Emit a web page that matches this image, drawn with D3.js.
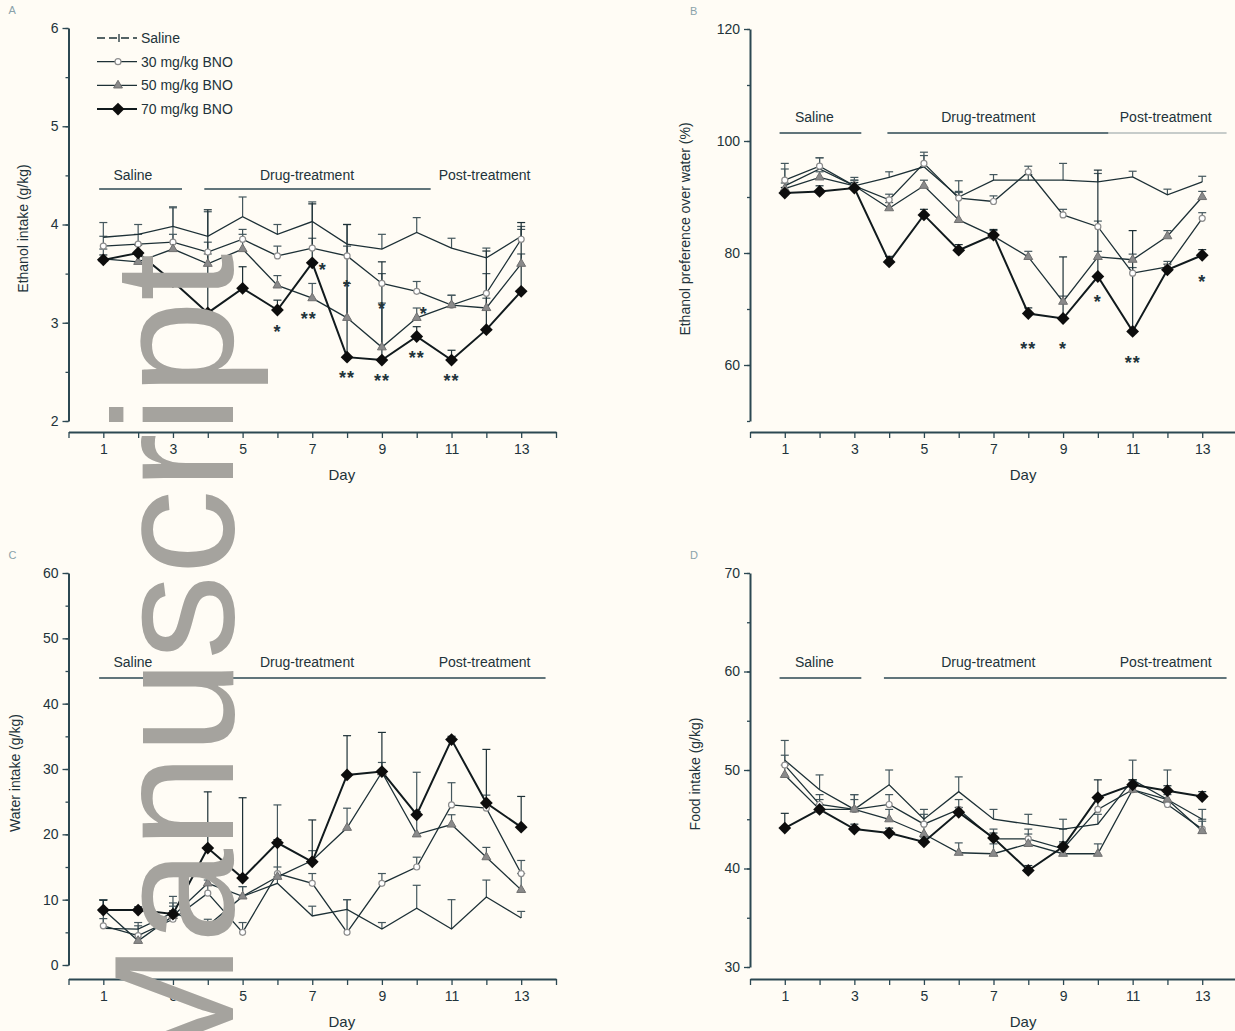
<!DOCTYPE html>
<head>
  <script src="https://d3js.org/d3.v7.min.js"></script>
  <style>
    body { margin: 0; overflow: hidden; background: #fffcf5; }
    svg { display: block; background: #fffcf5; }
    text { font-family: "Liberation Sans", Arial, sans-serif; fill: #22333a; }
  </style>
</head>
<body>
  <svg width="1235" height="1031"></svg>
  <script>
    // values, days 1..13
    const days = d3.range(1, 14);
    const seriesNames = ['Saline', '30 mg/kg BNO', '50 mg/kg BNO', '70 mg/kg BNO'];

    // A: ethanol intake (g/kg)
    const ethanolSaline = [3.87, 3.90, 3.98, 3.88, 4.08, 3.90, 4.03, 3.80, 3.75, 3.92, 3.76, 3.66, 3.88];
    const ethanol30 = [3.78, 3.80, 3.82, 3.72, 3.85, 3.68, 3.76, 3.68, 3.40, 3.32, 3.18, 3.30, 3.85];
    const ethanol50 = [3.65, 3.62, 3.75, 3.60, 3.75, 3.38, 3.25, 3.05, 2.75, 3.05, 3.18, 3.15, 3.60];
    const ethanol70 = [3.64, 3.71, 3.42, 3.10, 3.35, 3.13, 3.61, 2.65, 2.62, 2.86, 2.62, 2.93, 3.32];
    const ethanolSalineErr = [0.15, 0.10, 0.20, 0.25, 0.20, 0.10, 0.20, 0.20, 0.15, 0.15, 0.10, 0.10, 0.10];
    const ethanol30Err = [0.10, 0.10, 0.35, 0.10, 0.10, 0.10, 0.10, 0.10, 0.10, 0.10, 0.10, 0.20, 0.10];
    const ethanol50Err = [0.10, 0.10, 0.15, 0.10, 0.15, 0.10, 0.15, 0.35, 0.45, 0.10, 0.10, 0.10, 0.10];
    const ethanol70Err = [0.05, 0.08, 0.05, 1.05, 0.22, 0.10, 0.60, 1.35, 1.00, 0.10, 0.10, 0.80, 0.70];
    const ethanolStars = [
      { day: 6, value: 2.95, text: '*' }, { day: 6.9, value: 3.08, text: '**' }, { day: 7.3, value: 3.58, text: '*' },
      { day: 8, value: 2.48, text: '**' }, { day: 8, value: 3.40, text: '*' },
      { day: 9, value: 2.45, text: '**' }, { day: 9, value: 3.18, text: '*' },
      { day: 10, value: 2.68, text: '**' }, { day: 10.2, value: 3.13, text: '*' },
      { day: 11, value: 2.45, text: '**' }
    ];

    // B: ethanol preference over water (%)
    const prefSaline = [92, 95, 92, 93.5, 95.4, 90, 93, 93, 93, 92.7, 93.6, 90.4, 92.7];
    const pref30 = [93, 95.5, 92, 89.5, 96, 89.8, 89.2, 94.5, 86.8, 84.7, 76.4, 77.5, 86.2];
    const pref50 = [91.5, 93.5, 92, 88, 92, 85.9, 83, 79.3, 71.3, 79.3, 78.8, 83, 90];
    const pref70 = [90.7, 91, 91.6, 78.4, 86.8, 80.5, 83.2, 69.2, 68.3, 75.8, 66, 77, 79.6];
    const prefSalineErr = [3, 2, 1.5, 1, 2, 1, 1, 1, 3, 1.5, 1, 1, 1];
    const pref30Err = [3, 1.5, 1, 1, 2, 1, 1, 1, 1, 1, 1, 1, 1];
    const pref50Err = [1, 1, 1, 1, 1, 7, 1, 1, 1, 1, 1, 1, 1];
    const pref70Err = [1, 1, 1, 1, 1, 1, 1, 1, 11, 19, 18, 1, 1];
    const prefStars = [
      { day: 8, value: 63.5, text: '**' }, { day: 9, value: 63.5, text: '*' },
      { day: 10, value: 72, text: '*' }, { day: 11, value: 61, text: '**' },
      { day: 13, value: 75.5, text: '*' }
    ];

    // C: water intake (g/kg)
    const waterSaline = [5.6, 5.5, 8.0, 6.0, 10.5, 12.5, 7.5, 8.5, 5.5, 8.7, 5.5, 10.4, 7.2];
    const water30 = [6.0, 4.5, 7.0, 11.0, 5.0, 14.0, 12.5, 5.0, 12.5, 15.0, 24.5, 24.0, 14.0];
    const water50 = [8.5, 3.7, 7.5, 12.5, 10.5, 13.5, 16.0, 21.0, 29.5, 20.0, 21.5, 16.5, 11.5];
    const water70 = [8.4, 8.4, 7.8, 17.9, 13.3, 18.7, 15.8, 29.1, 29.6, 23.0, 34.5, 24.8, 21.1];
    const waterSalineErr = [1.5, 1, 1.5, 1, 1.5, 1, 1.5, 1.5, 1, 3.5, 4.5, 2.6, 1];
    const water30Err = [4, 1.5, 2, 2, 1.5, 10.5, 1.5, 5, 1.5, 1.5, 3.4, 2, 2];
    const water50Err = [1.5, 1, 3, 2, 1.5, 1.5, 1.5, 3, 1.5, 9.5, 1.5, 1.5, 2.5];
    const water70Err = [1.5, 0.5, 0.5, 8.6, 12.3, 0.5, 6.4, 6, 6, 0.5, 0.5, 8.2, 4.7];

    // D: food intake (g/kg)
    const foodSaline = [51.0, 48.0, 46.0, 48.5, 45.0, 47.8, 45.0, 44.5, 44.0, 44.5, 49.0, 47.0, 45.0];
    const food30 = [50.5, 46.5, 46.0, 46.5, 44.5, 46.0, 43.0, 43.0, 42.0, 46.0, 48.0, 46.5, 44.0];
    const food50 = [49.5, 46.0, 46.0, 45.0, 43.5, 41.6, 41.5, 42.5, 41.5, 41.5, 48.0, 47.0, 43.8];
    const food70 = [44.1, 46.0, 44.0, 43.6, 42.7, 45.7, 43.1, 39.8, 42.2, 47.2, 48.5, 47.9, 47.3];
    const foodSalineErr = [2, 1.5, 1.5, 1.5, 1, 1.5, 1, 1, 1, 1, 2, 3, 1];
    const food30Err = [1, 1, 1.5, 1, 1, 1, 1, 1, 2, 1, 1, 1, 1];
    const food50Err = [1, 1, 1, 1, 1, 1, 1, 1, 1, 1, 1, 1, 1];
    const food70Err = [1.5, 0.5, 0.5, 0.5, 0.5, 0.5, 0.5, 0.5, 0.5, 1.8, 0.5, 0.5, 0.5];

    const periods = [
      { label: 'Saline', center: 1.85 },
      { label: 'Drug-treatment', center: 6.85 },
      { label: 'Post-treatment', center: 11.95 }
    ];

    const svg = d3.select('svg');
    const lineColor = '#1d3036';
    const axisColor = '#2c4852';

    const panels = [
      { letter: 'A', left: 68.5, right: 556, top: 28, bottom: 421, axisY: 432,
        yDomain: [2, 6], yTicks: [2, 3, 4, 5, 6], yStep: 0.5,
        yTitle: 'Ethanol intake (g/kg)', titleX: 28,
        values: [ethanolSaline, ethanol30, ethanol50, ethanol70],
        errs: [ethanolSalineErr, ethanol30Err, ethanol50Err, ethanol70Err],
        stars: ethanolStars, labelY: 180, barY: 189,
        bars: [[0.88, 3.26], [3.9, 10.4]], legend: true },
      { letter: 'B', left: 750, right: 1237, top: 29, bottom: 421, axisY: 432,
        yDomain: [50, 120], yTicks: [60, 80, 100, 120], yStep: 10,
        yTitle: 'Ethanol preference over water (%)', titleX: 690,
        values: [prefSaline, pref30, pref50, pref70],
        errs: [prefSalineErr, pref30Err, pref50Err, pref70Err],
        stars: prefStars, labelY: 122, barY: 133,
        bars: [[0.85, 3.2], [3.95, 10.3], [10.3, 13.7, 0.35]] },
      { letter: 'C', left: 68.5, right: 556, top: 573, bottom: 965, axisY: 979,
        yDomain: [0, 60], yTicks: [0, 10, 20, 30, 40, 50, 60], yStep: 5,
        yTitle: 'Water intake (g/kg)', titleX: 20,
        values: [waterSaline, water30, water50, water70],
        errs: [waterSalineErr, water30Err, water50Err, water70Err],
        stars: [], labelY: 667, barY: 678,
        bars: [[0.88, 13.7]] },
      { letter: 'D', left: 750, right: 1237, top: 573, bottom: 967, axisY: 979,
        yDomain: [30, 70], yTicks: [30, 40, 50, 60, 70], yStep: 5,
        yTitle: 'Food intake (g/kg)', titleX: 700,
        values: [foodSaline, food30, food50, food70],
        errs: [foodSalineErr, food30Err, food50Err, food70Err],
        stars: [], labelY: 667, barY: 678,
        bars: [[0.85, 3.2], [3.85, 13.7]] }
    ];

    const drawMarker = (sel, i, px, py) => {
      if (i === 1) {
        sel.append('circle').attr('cx', px).attr('cy', py).attr('r', 3)
          .attr('fill', '#fff').attr('stroke', '#8d8d8d').attr('stroke-width', 1.2);
      } else if (i === 2) {
        sel.append('path').attr('d', d3.symbol(d3.symbolTriangle, 34)())
          .attr('transform', `translate(${px},${py})`)
          .attr('fill', '#8a8a8a').attr('stroke', '#6f6f6f');
      } else if (i === 3) {
        sel.append('path').attr('d', d3.symbol(d3.symbolSquare, 82)())
          .attr('transform', `translate(${px},${py}) rotate(45)`)
          .attr('fill', '#0d0d0d');
      }
    };

    panels.forEach(p => {
      const x = d3.scaleLinear().domain([0, 14]).range([p.left, p.right]);
      const y = d3.scaleLinear().domain(p.yDomain).range([p.bottom, p.top]);
      const g = svg.append('g');

      // y axis
      const minor = d3.range(p.yDomain[0], p.yDomain[1] + 1e-9, p.yStep);
      const yMinor = g.append('g').attr('transform', `translate(${p.left},0)`)
        .call(d3.axisLeft(y).tickValues(minor).tickSize(3).tickSizeOuter(0).tickFormat(''));
      yMinor.select('.domain').remove();
      const yAxis = g.append('g').attr('transform', `translate(${p.left},0)`)
        .call(d3.axisLeft(y).tickValues(p.yTicks).tickSize(6).tickSizeOuter(0)
          .tickPadding(4).tickFormat(d3.format('d')));
      g.selectAll('.tick line').attr('stroke', axisColor).attr('stroke-width', 1.3);
      yAxis.select('.domain').attr('stroke', axisColor).attr('stroke-width', 2);
      yAxis.selectAll('text').attr('font-size', 14);

      // x axis (offset below the y axis)
      const xAxis = g.append('g').attr('transform', `translate(0,${p.axisY})`)
        .call(d3.axisBottom(x).tickValues(d3.range(0, 15)).tickSize(6).tickSizeOuter(0)
          .tickPadding(6).tickFormat(d => (d % 2 === 1 ? d : '')));
      xAxis.select('.domain').attr('stroke', axisColor).attr('stroke-width', 2);
      xAxis.selectAll('.tick line').attr('stroke', axisColor).attr('stroke-width', 1.3);
      xAxis.selectAll('text').attr('font-size', 14);

      g.append('text').attr('x', x(7.85)).attr('y', p.axisY + 48)
        .attr('text-anchor', 'middle').attr('font-size', 15).text('Day');

      g.append('text')
        .attr('transform', `translate(${p.titleX},${(p.top + p.bottom) / 2 + 4}) rotate(-90)`)
        .attr('text-anchor', 'middle').attr('font-size', 14).text(p.yTitle);

      g.append('text').attr('x', p.left - 60).attr('y', p.top - 14)
        .attr('font-size', 11).style('fill', '#8aa2aa').text(p.letter);

      // period brackets
      periods.forEach(per => {
        g.append('text').attr('x', x(per.center)).attr('y', p.labelY)
          .attr('text-anchor', 'middle').attr('font-size', 14).text(per.label);
      });
      p.bars.forEach(b => {
        g.append('line').attr('x1', x(b[0])).attr('x2', x(b[1]))
          .attr('y1', p.barY).attr('y2', p.barY)
          .attr('stroke', axisColor).attr('stroke-width', 1.6)
          .attr('opacity', b.length > 2 ? b[2] : 1);
      });

      // error bars
      p.values.forEach((vals, i) => {
        vals.forEach((v, k) => {
          const e = p.errs[i][k];
          const px = x(days[k]);
          const c = i === 3 ? lineColor : '#44575d';
          g.append('line').attr('x1', px).attr('x2', px)
            .attr('y1', y(v)).attr('y2', y(v + e))
            .attr('stroke', c).attr('stroke-width', 1.2);
          g.append('line').attr('x1', px - 4).attr('x2', px + 4)
            .attr('y1', y(v + e)).attr('y2', y(v + e))
            .attr('stroke', c).attr('stroke-width', 1.2);
        });
      });

      // series lines + markers
      const line = d3.line().x((d, k) => x(days[k])).y(d => y(d));
      p.values.forEach((vals, i) => {
        g.append('path').datum(vals).attr('d', line)
          .attr('fill', 'none')
          .attr('stroke', i === 3 ? '#111a1d' : lineColor)
          .attr('stroke-width', i === 3 ? 2 : 1.3);
      });
      p.values.forEach((vals, i) => {
        vals.forEach((v, k) => drawMarker(g, i, x(days[k]), y(v)));
      });

      // significance marks
      p.stars.forEach(s => {
        g.append('text').attr('x', x(s.day)).attr('y', y(s.value) + 10)
          .attr('text-anchor', 'middle').attr('font-size', 18).attr('font-weight', 'bold')
          .attr('letter-spacing', 1).text(s.text);
      });

      if (p.legend) {
        const lg = g.append('g');
        seriesNames.forEach((name, i) => {
          const ly = 38 + i * 23.7;
          lg.append('line').attr('x1', 97).attr('x2', 137).attr('y1', ly).attr('y2', ly)
            .attr('stroke', i === 3 ? '#111a1d' : lineColor).attr('stroke-width', i === 3 ? 2 : 1.3)
            .attr('stroke-dasharray', i === 0 ? '8,4' : null);
          if (i === 0) {
            lg.append('line').attr('x1', 119).attr('x2', 119).attr('y1', ly - 4).attr('y2', ly + 4)
              .attr('stroke', lineColor).attr('stroke-width', 1.3);
          }
          drawMarker(lg, i, 118, ly);
          lg.append('text').attr('x', 141).attr('y', ly + 5).attr('font-size', 14).text(name);
        });
      }
    });

    // watermark
    svg.append('text')
      .attr('transform', 'translate(233,1085) rotate(-90)')
      .attr('font-size', 170)
      .style('fill', '#a5a39e')
      .text('Manuscript');
  </script>
</body>
